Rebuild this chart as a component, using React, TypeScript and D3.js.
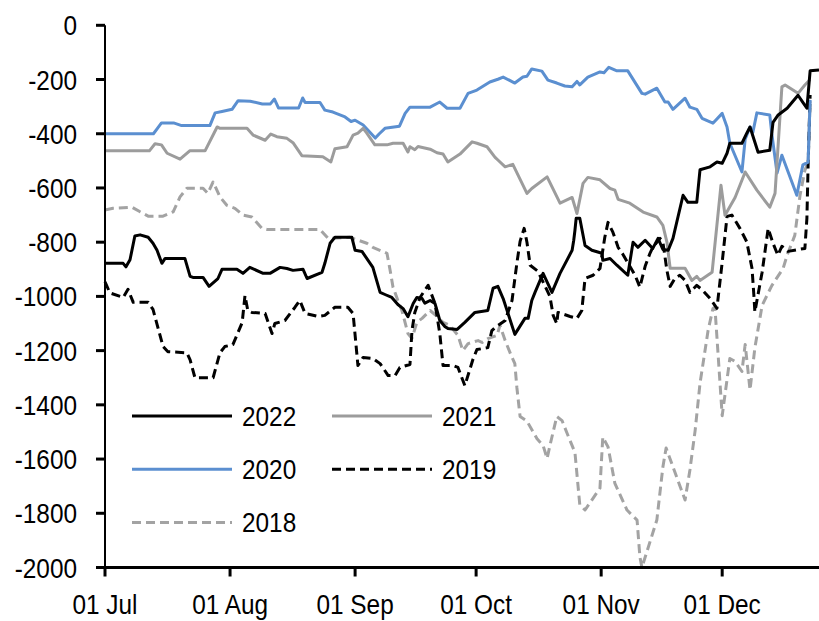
import React from "react";
import * as d3 from "d3";

// x = days since 01 Jul, y = value
const s2022: [number, number][] = [
  [0, -878], [4.5, -878], [5.2, -891], [6.2, -865], [7.4, -777], [8.7, -773], [10.7, -782], [11.9, -804],
  [12.9, -830], [14.1, -878], [14.9, -860], [19.8, -860], [21.1, -926], [21.8, -930], [24.3, -930],
  [25.8, -963], [28, -934], [29, -900], [32.7, -900], [34.2, -915], [35.9, -893], [39.2, -915],
  [40.9, -915], [43.4, -893], [45.1, -897], [46.6, -904], [49.1, -900], [50.1, -934], [53.8, -911],
  [54.5, -878], [55.8, -804], [57, -782], [61.2, -782], [62, -830], [63.7, -834], [66.4, -893],
  [68.2, -985], [69.4, -993], [71.1, -1004], [72.6, -1030], [73.9, -1045], [75.1, -1075], [76.4, -1026],
  [77.3, -1004], [78.6, -1008], [79.3, -1025], [80.6, -1015], [81.8, -1026], [82.3, -1052], [83, -1089],
  [84.3, -1112], [85, -1118], [87.3, -1122], [89.2, -1096], [91.7, -1059], [94.9, -1052], [96.2, -970],
  [97.4, -963], [98.7, -1008], [101.6, -1140], [104.1, -1081], [104.9, -1081], [105.8, -1015],
  [106.6, -985], [108.6, -915], [110.8, -985], [112.8, -915], [115.8, -830], [116.2, -793], [116.5, -756],
  [116.8, -712], [117.7, -712], [119, -812], [120.7, -830], [123.2, -841], [123.4, -867], [125.2, -860],
  [126.9, -885], [129.6, -922], [130.9, -800], [132.1, -819], [133.9, -793], [135.1, -812], [135.8, -823],
  [137.1, -786], [138.3, -827], [139.6, -830], [140.8, -786], [143.3, -627], [144.5, -653], [146.7, -653],
  [147.5, -533], [150, -522], [151.7, -504], [153, -509], [154.2, -472], [154.9, -435], [157.9, -435],
  [159.1, -398], [159.9, -375], [161.9, -468], [164.8, -461], [165.6, -358], [166.8, -332], [169.1, -306],
  [171.8, -258], [173, -284], [174, -306], [174.8, -168], [177, -165],
];

const s2021: [number, number][] = [
  [0, -463], [11, -463], [12.4, -437], [14, -441], [15.4, -472], [18.6, -494], [21, -463], [24.8, -463],
  [27.8, -375], [28.5, -380], [35.2, -380], [36.7, -405], [39.7, -424], [41.1, -401], [42.6, -411],
  [45.1, -417], [46.6, -433], [48.8, -481], [54, -485], [56, -504], [57, -455], [60, -448], [61.5, -405],
  [62.7, -398], [64, -380], [64.9, -398], [66.9, -441], [69.9, -441], [71.4, -435], [73.9, -435],
  [75.1, -467], [75.6, -448], [76.8, -459], [77.6, -447], [80.6, -457], [82.3, -470], [83.8, -475],
  [85, -504], [88, -475], [91, -430], [92.2, -435], [94.7, -448], [96.7, -487], [97.4, -497], [99.2, -522],
  [101.1, -513], [104.6, -620], [105.8, -602], [109.6, -559], [112.8, -656], [115.8, -635], [117, -694],
  [118.5, -583], [119.7, -561], [122.7, -570], [125.2, -602], [126.4, -608], [127.2, -642], [130.1, -656],
  [133.4, -689], [136.8, -707], [138.3, -738], [139.3, -800], [140.1, -896], [143.8, -896], [145.5, -941],
  [146.7, -926], [147.5, -941], [150.5, -911], [152.7, -590], [153.7, -701], [156.2, -635], [158.7, -541],
  [161.6, -608], [164.8, -671], [166.1, -620], [167.8, -227], [168.6, -220], [171.8, -251], [173.5, -220],
  [174.8, -200],
];

const s2020: [number, number][] = [
  [0, -400], [12, -400], [13, -380], [14, -360], [17, -360], [19, -370], [26, -370], [27.3, -323],
  [29, -318], [31.5, -310], [33, -278], [36, -280], [39, -290], [41, -290], [42, -272], [43, -305],
  [48, -305], [49, -268], [49.6, -285], [53.3, -285], [54.5, -313], [56.5, -320], [59.5, -338], [61, -355],
  [62, -350], [64, -368], [67, -416], [68, -400], [69.4, -380], [73, -372], [74.4, -325], [75.6, -302],
  [80.6, -302], [83, -283], [84.8, -306], [88, -306], [90, -251], [92.2, -239], [95.4, -209], [97.4, -199],
  [98.7, -191], [101.6, -213], [103.6, -191], [104.6, -188], [105.8, -161], [108.3, -169], [109.8, -202],
  [112, -213], [114, -224], [115.8, -227], [117, -207], [117.7, -220], [119.7, -191], [122.7, -172],
  [123.7, -175], [124.9, -155], [126.9, -168], [129.6, -168], [133.1, -251], [133.9, -254], [136.8, -232],
  [138.8, -283], [139.6, -283], [140.8, -310], [143.8, -269], [145, -302], [146.7, -310], [148, -343],
  [150.7, -361], [153, -325], [154.2, -375], [154.9, -435], [157.9, -541], [158.7, -420], [159.9, -375],
  [160.6, -395], [161.6, -323], [164.8, -331], [165.3, -400], [166.6, -545], [167.8, -479], [171.5, -627],
  [173, -515], [174.3, -505], [174.8, -275],
];

const s2019: [number, number][] = [
  [0, -946], [1.2, -987], [4.5, -1004], [5.7, -974], [7, -1022], [10.7, -1022], [11.9, -1048],
  [14.4, -1185], [15.6, -1204], [20.3, -1208], [21.1, -1234], [22.3, -1300], [26.8, -1300], [28.5, -1208],
  [29.7, -1185], [31.7, -1178], [34, -1097], [34.7, -997], [35.4, -1052], [36.4, -1059], [39.7, -1063],
  [41.4, -1137], [42.1, -1100], [44.6, -1089], [47.1, -1040], [48.3, -1015], [49.6, -1063], [52.8, -1074],
  [54.5, -1070], [57, -1040], [60.2, -1040], [61.5, -1063], [62.7, -1255], [64, -1225], [66.4, -1229],
  [68.2, -1248], [70.2, -1292], [71.9, -1292], [73.1, -1262], [75.6, -1251], [76.1, -1126], [76.8, -1059],
  [78.1, -1004], [80.1, -959], [81.8, -1026], [83, -1137], [83.8, -1255], [86.3, -1255], [87.5, -1262],
  [89.2, -1329], [91.2, -1233], [92.2, -1196], [94.9, -1189], [95.9, -1126], [96.7, -1115], [99.2, -1089],
  [100.9, -1015], [102.1, -878], [102.9, -797], [103.9, -749], [104.6, -800], [105.4, -885], [107.3, -907],
  [110.3, -1000], [111.1, -1070], [112, -1100], [112.3, -1059], [115.3, -1074], [117, -1081], [118.2, -1052],
  [119, -934], [121, -922], [122.7, -897], [123.9, -782], [124.7, -727], [125.9, -763], [127.2, -819],
  [128.4, -845], [131.4, -922], [132.6, -966], [133.9, -889], [135.1, -841], [135.8, -819], [137.6, -786],
  [138.3, -800], [139.3, -904], [140.1, -963], [141.3, -933], [142.5, -922], [143.8, -941], [145, -985],
  [146.7, -959], [148.2, -978], [150, -1008], [151.7, -1044], [153, -874], [154.2, -705], [155.4, -700],
  [157.4, -749], [159.1, -799], [160.4, -897], [160.9, -1006], [161.1, -1057], [162.9, -911], [164.4, -749],
  [165.6, -804], [166.8, -848], [167.8, -815], [169.3, -834], [172.3, -826], [173.5, -823], [174, -712],
  [174.3, -516], [174.8, -257],
];

const s2018: [number, number][] = [
  [0, -681], [2, -675], [6.7, -671], [8.7, -688], [10.7, -704], [14.4, -704], [16.9, -688], [18.6, -633],
  [20.3, -601], [24.3, -601], [25.5, -620], [26.8, -578], [28.5, -633], [30.2, -664], [32.2, -675],
  [34.2, -700], [36.4, -707], [38.9, -749], [40.2, -753], [53.3, -753], [55.3, -786], [60.7, -782],
  [64.9, -804], [66.4, -819], [69.9, -841], [70.6, -897], [71.4, -966], [72.6, -1015], [73.6, -1052],
  [75.1, -1137], [76.1, -1155], [77.3, -1096], [78.6, -1081], [80.6, -1052], [82.3, -1074], [83.8, -1096],
  [85.5, -1107], [87.5, -1144], [88.7, -1200], [90, -1174], [92.5, -1163], [93.5, -1170], [94.9, -1156],
  [97.2, -1144], [97.9, -1107], [99.2, -1163], [100.9, -1225], [101.6, -1248], [102.1, -1336],
  [102.9, -1443], [104.6, -1460], [107.1, -1525], [108.6, -1550], [109.6, -1598], [110.3, -1550],
  [112, -1443], [113.3, -1458], [114.5, -1503], [116.5, -1576], [117.7, -1769], [119, -1788], [122.7, -1707],
  [123.4, -1519], [124.7, -1555], [126.4, -1690], [129.4, -1788], [130.6, -1806], [131.9, -1825],
  [132.6, -1961], [133.1, -2000], [136.8, -1825], [138.3, -1629], [139.1, -1559], [140.8, -1629],
  [143.8, -1751], [145, -1640], [146.3, -1494], [147.5, -1321], [149.5, -1126], [150.7, -1045],
  [151.2, -1040], [153, -1440], [154.9, -1229], [156.2, -1240], [157.9, -1277], [158.7, -1177],
  [159.9, -1345], [161.1, -1190], [162.9, -1033], [165.3, -960], [168.1, -897], [169.1, -848], [171, -775],
  [172.3, -627], [173.5, -535], [174.3, -505], [174.8, -280],
];

const yTicks = [0, -200, -400, -600, -800, -1000, -1200, -1400, -1600, -1800, -2000];
const xTickLabels = ["01 Jul", "01 Aug", "01 Sep", "01 Oct", "01 Nov", "01 Dec"];

const seriesList = [
  { name: "2018", data: s2018, color: "#a3a3a3", dash: "9,5" },
  { name: "2019", data: s2019, color: "#000000", dash: "9,5" },
  { name: "2020", data: s2020, color: "#5b8fd0", dash: "" },
  { name: "2021", data: s2021, color: "#9c9c9c", dash: "" },
  { name: "2022", data: s2022, color: "#000000", dash: "" },
];

const legendOrder = ["2022", "2021", "2020", "2019", "2018"];

const START = Date.UTC(2022, 6, 1);
const toDate = (d: number) => new Date(START + d * 86400000);

export default function App() {
  const W = 819;
  const H = 621;
  const x = d3
    .scaleUtc()
    .domain([toDate(0), new Date(Date.UTC(2022, 11, 25))])
    .range([105, 819]);
  const y = d3.scaleLinear().domain([-2000, 0]).range([567.5, 25.3]);
  const line = d3
    .line<[number, number]>()
    .x((p) => x(toDate(p[0])))
    .y((p) => y(p[1]));
  const monthTicks = d3.utcMonth.range(toDate(0), new Date(Date.UTC(2022, 11, 2)));
  const font = "'Liberation Sans', Arial, sans-serif";
  const sx = 0.87;

  return (
    <svg
      width={W}
      height={H}
      style={{ position: "fixed", left: 0, top: 0, background: "#fff" }}
      fontFamily={font}
    >
      <rect width={W} height={H} fill="#fff" />
      {seriesList.map((s) => (
        <path
          key={s.name}
          d={line(s.data) || ""}
          fill="none"
          stroke={s.color}
          strokeWidth={3}
          strokeDasharray={s.dash || undefined}
          strokeLinejoin="round"
        />
      ))}
      {/* y axis */}
      <line x1={105} x2={105} y1={y(0)} y2={y(-2000)} stroke="#000" strokeWidth={2} />
      {yTicks.map((t) => (
        <g key={t}>
          <line x1={96} x2={105} y1={y(t)} y2={y(t)} stroke="#000" strokeWidth={3} />
          <text
            transform={`translate(77,${y(t) + 10}) scale(${sx},1)`}
            textAnchor="end"
            fontSize={28}
            fill="#000"
          >
            {String(t)}
          </text>
        </g>
      ))}
      {/* x axis */}
      <line x1={104} x2={819} y1={y(-2000)} y2={y(-2000)} stroke="#000" strokeWidth={3} />
      {monthTicks.map((m, i) => (
        <g key={i}>
          <line x1={x(m)} x2={x(m)} y1={y(-2000)} y2={y(-2000) + 9} stroke="#000" strokeWidth={3} />
          <text
            transform={`translate(${x(m)},614) scale(${sx},1)`}
            textAnchor="middle"
            fontSize={28}
            fill="#000"
          >
            {xTickLabels[i]}
          </text>
        </g>
      ))}
      {/* legend */}
      {legendOrder.map((name, i) => {
        const s = seriesList.find((q) => q.name === name)!;
        const col = i % 2;
        const row = Math.floor(i / 2);
        const lx = col === 0 ? 132 : 332;
        const ly = 416 + row * 53.2;
        return (
          <g key={name}>
            <line
              x1={lx}
              x2={lx + 100}
              y1={ly}
              y2={ly}
              stroke={s.color}
              strokeWidth={3}
              strokeDasharray={s.dash || undefined}
            />
            <text
              transform={`translate(${lx + 110},${ly + 10}) scale(${sx},1)`}
              fontSize={28}
              fill="#000"
            >
              {name}
            </text>
          </g>
        );
      })}
    </svg>
  );
}
